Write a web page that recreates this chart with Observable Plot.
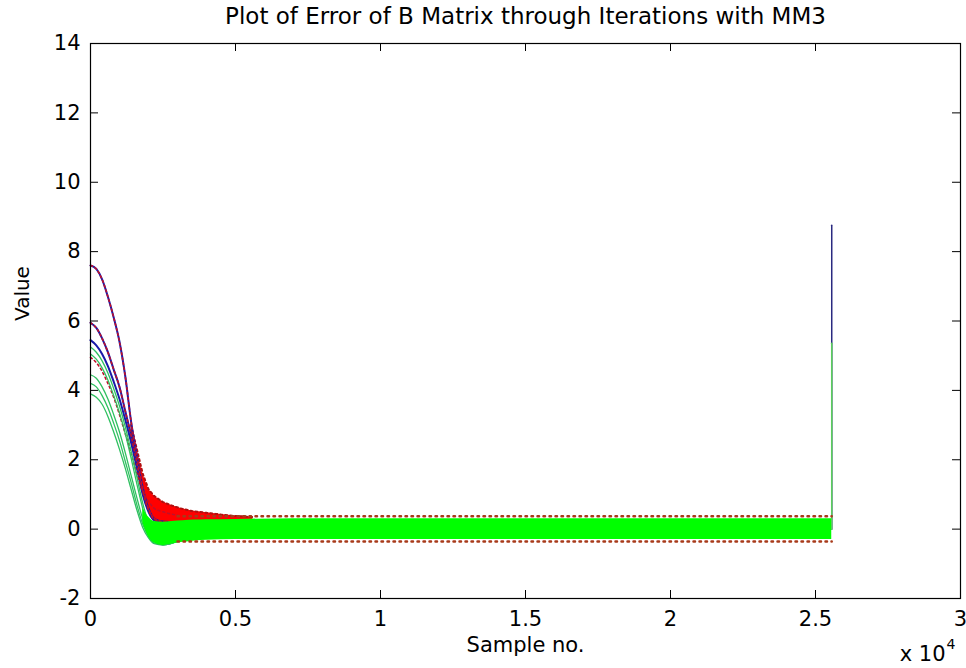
<!DOCTYPE html>
<html><head><meta charset="utf-8">
<script src="https://cdn.jsdelivr.net/npm/d3@7"></script>
<script src="https://cdn.jsdelivr.net/npm/@observablehq/plot@0.6"></script>
<style>
html,body{margin:0;padding:0;background:#fff;}
#chart svg{display:block;}
</style>
</head><body><div id="chart"></div>
<script>
// ---- tick definitions ----
const xTicks = [0, 5000, 10000, 15000, 20000, 25000, 30000];
const xTickLabels = ["0", "0.5", "1", "1.5", "2", "2.5", "3"];
const yTicks = [-2, 0, 2, 4, 6, 8, 10, 12, 14];

// ---- transient (decaying) curves, sample positions ----
const decayX = [0, 200, 400, 600, 800, 1000, 1200, 1400, 1600, 1800, 2000, 2200, 2500, 3000];
const blueA  = [7.6, 7.5, 7.2, 6.7, 6.1, 5.4, 4.4, 3.1, 2.1, 1.2, 0.6, 0.3, 0.22, 0.2];
const redA   = [7.6, 7.5, 7.2, 6.7, 6.1, 5.4, 4.4, 3.1, 2.1, 1.2, 0.6, 0.3, 0.22, 0.2];
const blueC  = [5.95, 5.8, 5.5, 5.1, 4.6, 4.1, 3.4, 2.7, 1.9, 1.1, 0.55, 0.28, 0.2, 0.2];
const redC   = [5.95, 5.8, 5.5, 5.1, 4.6, 4.1, 3.4, 2.7, 1.9, 1.1, 0.55, 0.28, 0.2, 0.2];
const blueD  = [5.45, 5.3, 5.05, 4.7, 4.25, 3.75, 3.15, 2.5, 1.75, 1.0, 0.5, 0.25, 0.18, 0.18];
const greenE = [5.25, 5.1, 4.85, 4.5, 4.05, 3.55, 2.95, 2.25, 1.5, 0.75, 0.2, -0.1, -0.25, -0.2];
const greenF = [5.05, 4.9, 4.65, 4.3, 3.85, 3.35, 2.75, 2.05, 1.3, 0.6, 0.1, -0.2, -0.35, -0.25];
const redG   = [4.95, 4.8, 4.55, 4.2, 3.8, 3.3, 2.75, 2.2, 1.6, 1.1, 0.8, 0.6, 0.5, 0.4];
const greenH = [4.45, 4.35, 4.1, 3.75, 3.3, 2.8, 2.2, 1.55, 0.9, 0.3, -0.1, -0.35, -0.45, -0.35];
const greenI = [4.2, 4.1, 3.85, 3.5, 3.05, 2.55, 1.95, 1.35, 0.7, 0.15, -0.2, -0.4, -0.45, -0.35];
const greenJ = [3.9, 3.8, 3.6, 3.25, 2.8, 2.3, 1.75, 1.15, 0.55, 0.05, -0.25, -0.42, -0.46, -0.35];

// ---- red oscillation envelope during settling ----
const redBandX     = [1400, 1600, 1800, 2000, 2200, 2500, 2800, 3100, 3500, 4000, 4500, 5000, 5600];
const redBandHigh  = [3.0, 2.3, 1.6, 1.15, 0.95, 0.78, 0.68, 0.6, 0.52, 0.47, 0.42, 0.38, 0.35];
const redBandLow   = [2.5, 1.8, 1.0, 0.5, 0.25, 0.2, 0.2, 0.2, 0.2, 0.2, 0.2, 0.2, 0.2];

// ---- steady-state oscillation bands ----
const bandX        = [1800, 2000, 2200, 2500, 2800, 3200, 3600, 4000, 5000, 7000, 10000, 15000, 20000, 25560];
const greenHigh    = [0.6, 0.35, 0.22, 0.2, 0.22, 0.24, 0.26, 0.27, 0.28, 0.3, 0.3, 0.3, 0.3, 0.3];
const greenLow     = [0.2, -0.22, -0.4, -0.47, -0.43, -0.38, -0.34, -0.32, -0.3, -0.3, -0.3, -0.3, -0.3, -0.3];
const redTipX      = [3000, 25560];
const redTipHigh   = [0.37, 0.37];
const redTipLow    = [-0.36, -0.36];

// ---- final spike ----
const spikeX     = [25560, 25560];
const blueSpike  = [0.0, 8.76];
const greenSpike = [0.0, 5.36];

// ---- assemble tables ----
const curve = (ys, name) => decayX.map((x, i) => ({x, y: ys[i], name}));
const blueCurves  = [...curve(blueA, "A"), ...curve(blueC, "C"), ...curve(blueD, "D")];
const redCurves   = [...curve(redA, "A"), ...curve(redC, "C"), ...curve(redG, "G")];
const greenCurves = [...curve(greenE, "E"), ...curve(greenF, "F"), ...curve(greenH, "H"), ...curve(greenI, "I"), ...curve(greenJ, "J")];
const redBand   = redBandX.map((x, i) => ({x, y1: redBandLow[i], y2: redBandHigh[i]}));
const greenBand = bandX.map((x, i) => ({x, y1: greenLow[i], y2: greenHigh[i]}));
const redTips = [
  ...redTipX.map((x, i) => ({x, y: redTipHigh[i], k: "hi"})),
  ...redTipX.map((x, i) => ({x, y: redTipLow[i], k: "lo"}))
];
const bSpike = spikeX.map((x, i) => ({x, y: blueSpike[i]}));
const gSpike = spikeX.map((x, i) => ({x, y: greenSpike[i]}));

const W = 966, H = 668, ML = 90, MR = 6, MT = 43, MB = 70;
const PW = W - ML - MR, PH = H - MT - MB;
const FONT = "DejaVu Sans, Verdana, sans-serif";
const BLUE = "#1a1aa8", RED = "#ff0000", GREEN = "#00ff00";

const chart = Plot.plot({
  width: W, height: H,
  marginLeft: ML, marginRight: MR, marginTop: MT, marginBottom: MB,
  style: {fontFamily: FONT, background: "#fff", color: "#000"},
  x: {domain: [0, 30000], axis: null},
  y: {domain: [-2, 14], axis: null},
  marks: [
    // data
    Plot.areaY(redBand, {x: "x", y1: "y1", y2: "y2", fill: RED, curve: "linear"}),
    Plot.lineY(redBand, {x: "x", y: "y2", stroke: "#b01010", strokeWidth: 2, strokeDasharray: "2,3"}),
    Plot.line(blueCurves, {x: "x", y: "y", z: "name", stroke: BLUE, strokeWidth: 2, curve: "monotone-x"}),
    Plot.line(redCurves, {x: "x", y: "y", z: "name", stroke: "#c0102a", strokeWidth: 1.6, strokeDasharray: "2,3", curve: "monotone-x"}),
    Plot.line(greenCurves, {x: "x", y: "y", z: "name", stroke: "#2fc060", strokeWidth: 1.3, curve: "monotone-x"}),
    Plot.line(bSpike, {x: "x", y: "y", stroke: "#2a2a80", strokeWidth: 1.5}),
    Plot.areaY(greenBand, {x: "x", y1: "y1", y2: "y2", fill: GREEN, curve: "monotone-x"}),
    Plot.line(gSpike, {x: "x", y: "y", stroke: "#5ad05a", strokeWidth: 1.5}),
    Plot.line(redTips, {x: "x", y: "y", z: "k", stroke: "#a83a1a", strokeWidth: 2.5, strokeDasharray: "1.5,4.5"}),
    // box and inward ticks
    Plot.frame({stroke: "#000", strokeWidth: 1.2}),
    Plot.tickY(yTicks, {y: d => d, insetRight: PW - 8, stroke: "#000"}),
    Plot.tickY(yTicks, {y: d => d, insetLeft: PW - 8, stroke: "#000"}),
    Plot.tickX(xTicks, {x: d => d, insetTop: PH - 8, stroke: "#000"}),
    Plot.tickX(xTicks, {x: d => d, insetBottom: PH - 8, stroke: "#000"}),
    // tick labels
    Plot.text(yTicks, {y: d => d, text: d => String(d), frameAnchor: "left", textAnchor: "end", dx: -10, fontSize: 21, fill: "#000"}),
    Plot.text(xTicks, {x: d => d, text: (d, i) => xTickLabels[i], frameAnchor: "bottom", lineAnchor: "top", dy: 13, fontSize: 21, fill: "#000"}),
    // titles
    Plot.text(["Plot of Error of B Matrix through Iterations with MM3"], {frameAnchor: "top", lineAnchor: "middle", dy: -26.5, fontSize: 23, fill: "#000"}),
    Plot.text(["Sample no."], {frameAnchor: "bottom", lineAnchor: "middle", dy: 47, fontSize: 21, fill: "#000"}),
    Plot.text(["Value"], {frameAnchor: "left", rotate: -90, dx: -68, fontSize: 20, fill: "#000"}),
    Plot.text(["x 10"], {frameAnchor: "bottom-right", lineAnchor: "middle", textAnchor: "end", dx: -15, dy: 56, fontSize: 21, fill: "#000"}),
    Plot.text(["4"], {frameAnchor: "bottom-right", lineAnchor: "middle", textAnchor: "start", dx: -14, dy: 46, fontSize: 14, fill: "#000"})
  ]
});
document.getElementById("chart").appendChild(chart);
</script>
</body></html>
